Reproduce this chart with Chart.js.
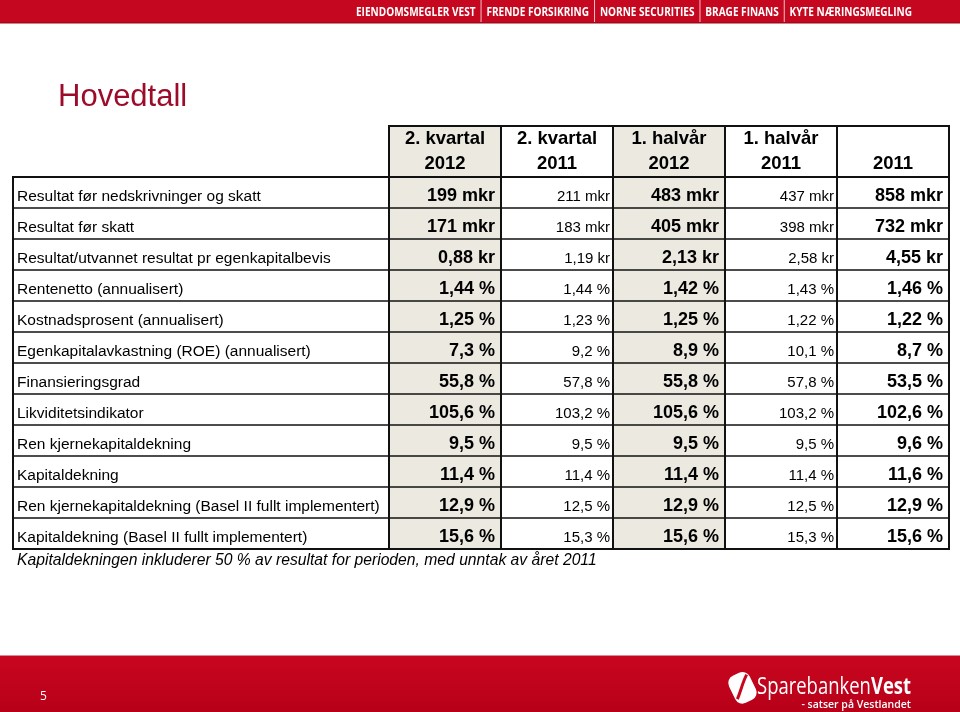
<!DOCTYPE html>
<html>
<head>
<meta charset="utf-8">
<title>Hovedtall</title>
<script src="https://cdn.jsdelivr.net/npm/chart.js@4.4.1/dist/chart.umd.min.js"></script>
<style>
  html, body { margin: 0; padding: 0; background: #fff; }
  canvas { display: block; }
</style>
</head>
<body>
<canvas id="hovedtall" width="960" height="712"></canvas>
<script>
// Column headers (two lines each) and row labels
const columnHeaders = [['2. kvartal', '2012'], ['2. kvartal', '2011'], ['1. halvår', '2012'], ['1. halvår', '2011'], ['', '2011']];
const rowLabels = [
    'Resultat før nedskrivninger og skatt',
    'Resultat før skatt',
    'Resultat/utvannet resultat pr egenkapitalbevis',
    'Rentenetto (annualisert)',
    'Kostnadsprosent (annualisert)',
    'Egenkapitalavkastning (ROE) (annualisert)',
    'Finansieringsgrad',
    'Likviditetsindikator',
    'Ren kjernekapitaldekning',
    'Kapitaldekning',
    'Ren kjernekapitaldekning (Basel II fullt implementert)',
    'Kapitaldekning (Basel II fullt implementert)'
];
const rowUnits = ['mkr', 'mkr', 'kr', '%', '%', '%', '%', '%', '%', '%', '%', '%'];
const rowDecimals = [0, 0, 2, 2, 2, 1, 1, 1, 1, 1, 1, 1];

// Values per column
const kvartal2012 = [199, 171, 0.88, 1.44, 1.25, 7.3, 55.8, 105.6, 9.5, 11.4, 12.9, 15.6];
const kvartal2011 = [211, 183, 1.19, 1.44, 1.23, 9.2, 57.8, 103.2, 9.5, 11.4, 12.5, 15.3];
const halvar2012 = [483, 405, 2.13, 1.42, 1.25, 8.9, 55.8, 105.6, 9.5, 11.4, 12.9, 15.6];
const halvar2011 = [437, 398, 2.58, 1.43, 1.22, 10.1, 57.8, 103.2, 9.5, 11.4, 12.5, 15.3];
const aar2011 = [858, 732, 4.55, 1.46, 1.22, 8.7, 53.5, 102.6, 9.6, 11.6, 12.9, 15.6];

const columnValues = [kvartal2012, kvartal2011, halvar2012, halvar2011, aar2011];
const columnBold = [true, false, true, false, true];
const columnShaded = [true, false, true, false, false];

const footnote = 'Kapitaldekningen inkluderer 50 % av resultat for perioden, med unntak av året 2011';
const topMenu = ['EIENDOMSMEGLER VEST', 'FRENDE FORSIKRING', 'NORNE SECURITIES', 'BRAGE FINANS', 'KYTE NÆRINGSMEGLING'];

const RED = '#c5081f';
const FONT = '"Liberation Sans", Arial, sans-serif';
const TEXT_SHIFT = 4; // text sits a bit low in each row

function formatValue(v, r) {
    return v.toFixed(rowDecimals[r]).replace('.', ',') + ' ' + rowUnits[r];
}

const datasets = columnValues.map((vals, c) => ({
    label: columnHeaders[c].join(' '),
    data: vals.map((v, r) => ({ x: c, y: r })),
    values: vals,
    pointRadius: 0,
    pointHoverRadius: 0
}));

// helpers for cell edges, taken from the category scales
function colEdge(x, k) { return x.getPixelForValue(k - 0.5); }
function rowEdge(y, k) { return y.getPixelForValue(k - 0.5); }

const slidePlugin = {
    id: 'slide',
    beforeDraw(chart) {
        const ctx = chart.ctx;
        const x = chart.scales.x, y = chart.scales.y;
        ctx.save();
        ctx.fillStyle = '#fff';
        ctx.fillRect(0, 0, chart.width, chart.height);

        // top bar
        ctx.fillStyle = RED;
        ctx.fillRect(0, 0, 960, 23);
        ctx.fillStyle = '#9e0a1c';
        ctx.fillRect(0, 22, 960, 1.5);
        ctx.font = 'bold 12px "Open Sans", sans-serif';
        const gap = 13;
        let total = 0;
        topMenu.forEach((t, i) => { total += ctx.measureText(t).width + (i ? gap : 0); });
        const sx = 556 / total;
        ctx.translate(356, 0);
        ctx.scale(sx, 1);
        let cx = 0;
        ctx.textBaseline = 'middle';
        topMenu.forEach((t, i) => {
            if (i) {
                ctx.fillStyle = 'rgba(255,255,255,0.75)';
                ctx.fillRect(cx + gap / 2 - 0.5, 0, 1 / sx, 22);
                cx += gap;
            }
            ctx.fillStyle = '#fff';
            ctx.fillText(t, cx, 13);
            cx += ctx.measureText(t).width;
        });
        ctx.restore();

        // title
        ctx.save();
        ctx.fillStyle = '#9d0b2b';
        ctx.font = '31px ' + FONT;
        ctx.textBaseline = 'alphabetic';
        ctx.fillText('Hovedtall', 58, 106);

        // shaded 2012 columns
        ctx.fillStyle = '#ebe9e0';
        columnShaded.forEach((s, c) => {
            if (!s) return;
            const l = colEdge(x, c), r = colEdge(x, c + 1);
            ctx.fillRect(l, x.top, r - l, rowEdge(y, rowLabels.length) - x.top);
        });
        ctx.restore();
    },
    afterDraw(chart) {
        const ctx = chart.ctx;
        const x = chart.scales.x, y = chart.scales.y;
        const nCols = columnHeaders.length, nRows = rowLabels.length;
        const left = y.left - 4;
        const right = colEdge(x, nCols);
        const top = rowEdge(y, 0), bottom = rowEdge(y, nRows);
        ctx.save();

        // row labels from the y scale
        ctx.font = '15.5px ' + FONT;
        ctx.fillStyle = '#000';
        ctx.textAlign = 'left';
        ctx.textBaseline = 'middle';
        y.getTicks().forEach((t) => {
            ctx.fillText(y.getLabelForValue(t.value), y.left, y.getPixelForValue(t.value) + TEXT_SHIFT);
        });

        // cell values
        chart.data.datasets.forEach((ds, c) => {
            const meta = chart.getDatasetMeta(c);
            const edge = colEdge(x, c + 1);
            ctx.font = (columnBold[c] ? 'bold 18px ' : '15px ') + FONT;
            ctx.fillStyle = '#000';
            ctx.textAlign = 'right';
            ctx.textBaseline = 'middle';
            meta.data.forEach((el, r) => {
                ctx.fillText(formatValue(ds.values[r], r), edge - (columnBold[c] ? 6 : 3), el.y + TEXT_SHIFT);
            });
        });

        // table lines
        ctx.strokeStyle = '#111';
        for (let k = 0; k <= nRows; k++) {
            const py = Math.round(rowEdge(y, k));
            ctx.lineWidth = (k === 0 || k === nRows) ? 2 : 1.3;
            ctx.beginPath();
            ctx.moveTo(left - 1, py);
            ctx.lineTo(right + 1, py);
            ctx.stroke();
        }
        ctx.lineWidth = 2;
        ctx.beginPath();
        ctx.moveTo(colEdge(x, 0) - 1, Math.round(x.top));
        ctx.lineTo(right + 1, Math.round(x.top));
        ctx.stroke();
        for (let k = 0; k <= nCols; k++) {
            const px = Math.round(colEdge(x, k));
            ctx.beginPath();
            ctx.moveTo(px, Math.round(x.top));
            ctx.lineTo(px, bottom);
            ctx.stroke();
        }
        ctx.beginPath();
        ctx.moveTo(left, top);
        ctx.lineTo(left, bottom);
        ctx.stroke();

        // footnote
        ctx.font = 'italic 15.7px ' + FONT;
        ctx.textAlign = 'left';
        ctx.textBaseline = 'middle';
        ctx.fillStyle = '#000';
        ctx.fillText(footnote, y.left, bottom + 12);

        // footer bar
        const g = ctx.createLinearGradient(0, 655, 0, 712);
        g.addColorStop(0, '#c9061f');
        g.addColorStop(1, '#b80019');
        ctx.fillStyle = g;
        ctx.fillRect(0, 655, 960, 57);
        ctx.fillStyle = '#d88a95';
        ctx.fillRect(0, 655, 960, 1);
        ctx.fillStyle = '#fff';
        ctx.font = '12px "Open Sans", sans-serif';
        ctx.fillText('5', 40, 697);

        // logo mark
        ctx.save();
        ctx.translate(742, 688);
        ctx.rotate(-0.45);
        ctx.beginPath();
        ctx.roundRect(-11, -15, 23, 30, 8);
        ctx.fillStyle = '#fff';
        ctx.fill();
        ctx.beginPath();
        ctx.moveTo(-9, 8);
        ctx.bezierCurveTo(-2, 2, 2, -4, 10, -10);
        ctx.lineWidth = 3;
        ctx.strokeStyle = RED;
        ctx.stroke();
        ctx.restore();

        // logo text
        ctx.save();
        ctx.fillStyle = '#fff';
        ctx.textBaseline = 'alphabetic';
        ctx.font = '23px "Open Sans", sans-serif';
        const w1 = ctx.measureText('Sparebanken').width;
        ctx.font = 'bold 23px "Open Sans", sans-serif';
        const w2 = ctx.measureText('Vest').width;
        ctx.translate(757, 694);
        ctx.scale(154 / (w1 + w2), 1);
        ctx.font = '23px "Open Sans", sans-serif';
        ctx.fillText('Sparebanken', 0, 0);
        ctx.font = 'bold 23px "Open Sans", sans-serif';
        ctx.fillText('Vest', w1, 0);
        ctx.restore();
        ctx.fillStyle = '#fff';
        ctx.font = '600 10.5px "Open Sans", sans-serif';
        ctx.textAlign = 'right';
        ctx.fillText('- satser på Vestlandet', 911, 705);
        ctx.restore();
    }
};

const ctx = document.getElementById('hovedtall').getContext('2d');
const tableChart = new Chart(ctx, {
    type: 'scatter',
    data: { datasets: datasets },
    options: {
        responsive: false,
        animation: false,
        events: [],
        layout: { padding: { left: 17, right: 11, top: 126, bottom: 163 } },
        plugins: {
            legend: { display: false },
            tooltip: { enabled: false }
        },
        scales: {
            x: {
                type: 'category',
                position: 'top',
                labels: columnHeaders,
                offset: true,
                grid: { display: false, drawTicks: false },
                border: { display: false },
                ticks: {
                    autoSkip: false,
                    maxRotation: 0,
                    padding: 0,
                    color: '#000',
                    font: { family: FONT, size: 18.5, weight: 'bold', lineHeight: 1.38 }
                },
                afterFit(scale) { scale.height = 51; }
            },
            y: {
                type: 'category',
                position: 'left',
                labels: rowLabels,
                offset: true,
                grid: { display: false, drawTicks: false },
                border: { display: false },
                ticks: { display: false, autoSkip: false },
                afterFit(scale) { scale.width = 372; }
            }
        }
    },
    plugins: [slidePlugin]
});
</script>
</body>
</html>
